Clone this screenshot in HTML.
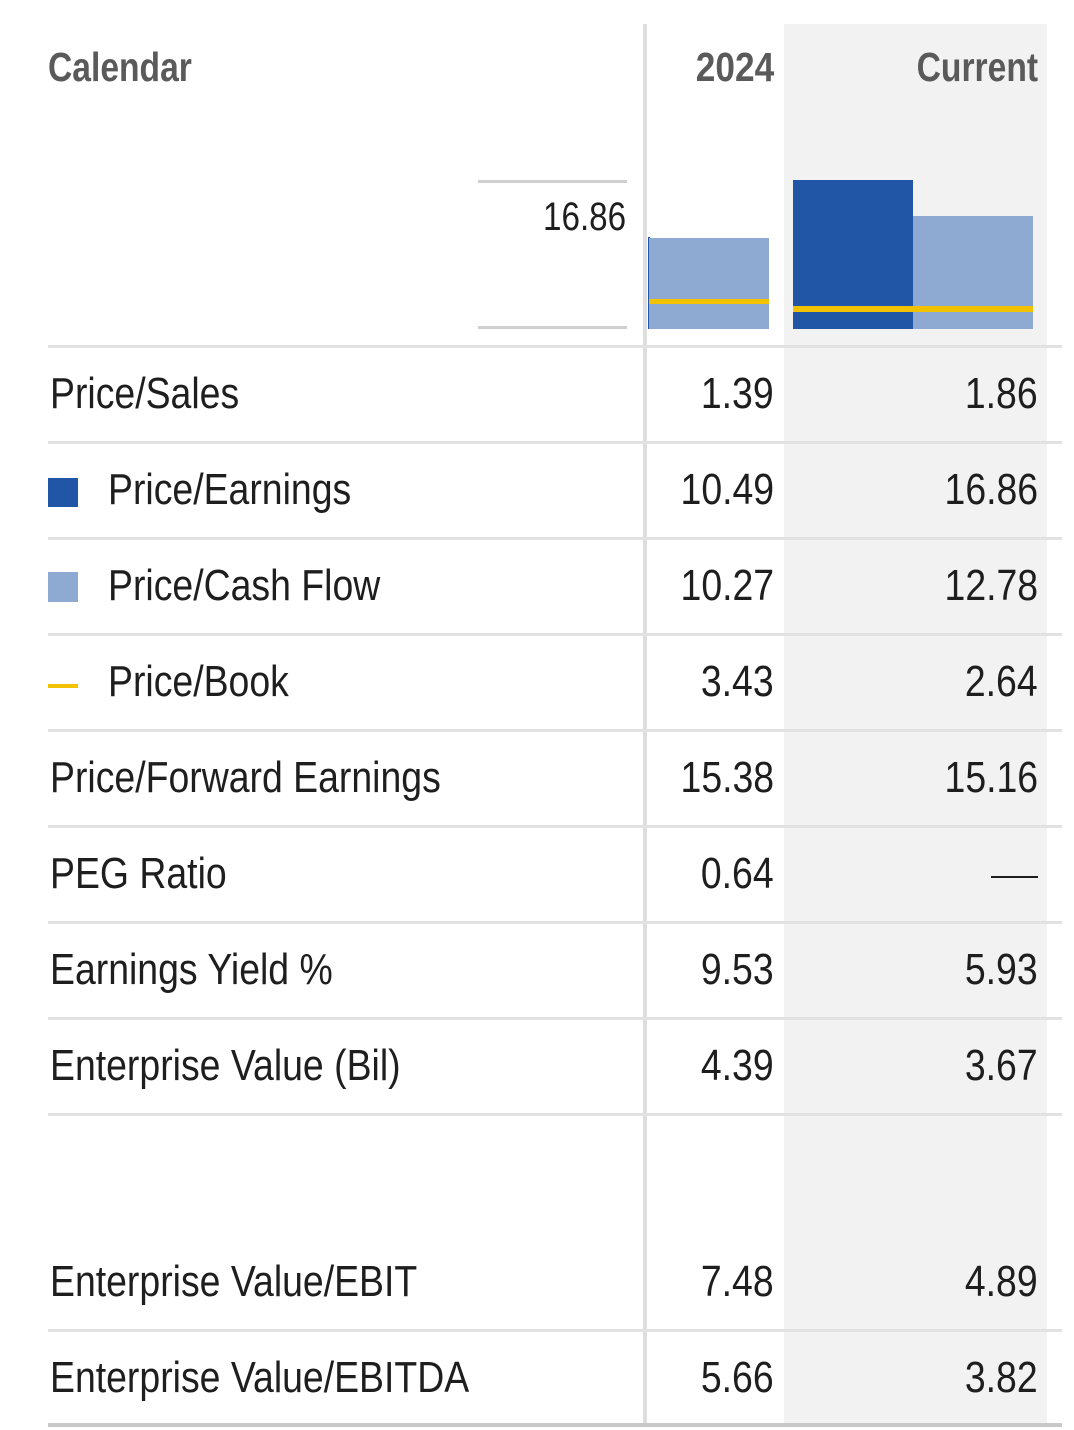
<!DOCTYPE html>
<html><head><meta charset="utf-8"><style>
html,body{margin:0;padding:0;background:#fff;}
body{width:1074px;height:1430px;position:relative;overflow:hidden;font-family:"Liberation Sans",sans-serif;}
.a{position:absolute;}
.t{position:absolute;font-size:44px;line-height:50px;height:50px;color:#1e1e1e;white-space:nowrap;transform:scaleX(0.85);}
.l{transform-origin:left center;}
.r{transform-origin:right center;text-align:right;}
.h{font-weight:bold;color:#5a5a5a;font-size:41px;transform:scaleX(0.82);}
.line{position:absolute;left:48px;width:1014px;height:3px;background:#e2e2e2;}
</style></head><body>
<div class="a" style="left:784px;top:24px;width:263px;height:1401px;background:#f2f2f2"></div>
<div class="a" style="left:643px;top:24px;width:4px;height:1401px;background:#dedede"></div>

<div class="t l h" style="left:48px;top:42px">Calendar</div>
<div class="t r h" style="right:300px;top:42px;transform:scaleX(0.86)">2024</div>
<div class="t r h" style="right:36px;top:42px">Current</div>

<div class="a" style="left:478px;top:180px;width:149px;height:3px;background:#cfcfcf"></div>
<div class="a" style="left:478px;top:326px;width:149px;height:3px;background:#cfcfcf"></div>
<div class="t r" style="right:448px;top:192px;font-size:40px;transform:scaleX(0.83)">16.86</div>

<div class="a" style="left:648px;top:237px;width:2px;height:92px;background:#2155a6"></div>
<div class="a" style="left:649px;top:238px;width:120px;height:91px;background:#8eaad3"></div>
<div class="a" style="left:649px;top:299px;width:120px;height:5px;background:#f2c200"></div>
<div class="a" style="left:793px;top:180px;width:120px;height:149px;background:#2155a6"></div>
<div class="a" style="left:913px;top:216px;width:120px;height:113px;background:#8eaad3"></div>
<div class="a" style="left:793px;top:306px;width:240px;height:6px;background:#f2c200"></div>

<div class="line" style="top:345px"></div>
<div class="line" style="top:441px"></div>
<div class="line" style="top:537px"></div>
<div class="line" style="top:633px"></div>
<div class="line" style="top:729px"></div>
<div class="line" style="top:825px"></div>
<div class="line" style="top:921px"></div>
<div class="line" style="top:1017px"></div>
<div class="line" style="top:1113px"></div>
<div class="line" style="top:1329px"></div>
<div class="line" style="top:1423px;height:4px;background:#c8c8c8"></div>

<div class="a" style="left:48px;top:478px;width:30px;height:29px;background:#2155a6"></div>
<div class="a" style="left:48px;top:572px;width:30px;height:30px;background:#8eaad3"></div>
<div class="a" style="left:48px;top:684px;width:30px;height:4px;background:#f2c200"></div>

<div class="t l" style="left:50px;top:369px">Price/Sales</div>
<div class="t r" style="right:300px;top:369px">1.39</div>
<div class="t r" style="right:36px;top:369px">1.86</div>

<div class="t l" style="left:108px;top:465px">Price/Earnings</div>
<div class="t r" style="right:300px;top:465px">10.49</div>
<div class="t r" style="right:36px;top:465px">16.86</div>

<div class="t l" style="left:108px;top:561px">Price/Cash Flow</div>
<div class="t r" style="right:300px;top:561px">10.27</div>
<div class="t r" style="right:36px;top:561px">12.78</div>

<div class="t l" style="left:108px;top:657px">Price/Book</div>
<div class="t r" style="right:300px;top:657px">3.43</div>
<div class="t r" style="right:36px;top:657px">2.64</div>

<div class="t l" style="left:50px;top:753px">Price/Forward Earnings</div>
<div class="t r" style="right:300px;top:753px">15.38</div>
<div class="t r" style="right:36px;top:753px">15.16</div>

<div class="t l" style="left:50px;top:849px">PEG Ratio</div>
<div class="t r" style="right:300px;top:849px">0.64</div>
<div class="a" style="left:991px;top:876px;width:47px;height:2px;background:#1e1e1e"></div>

<div class="t l" style="left:50px;top:945px">Earnings Yield %</div>
<div class="t r" style="right:300px;top:945px">9.53</div>
<div class="t r" style="right:36px;top:945px">5.93</div>

<div class="t l" style="left:50px;top:1041px">Enterprise Value (Bil)</div>
<div class="t r" style="right:300px;top:1041px">4.39</div>
<div class="t r" style="right:36px;top:1041px">3.67</div>

<div class="t l" style="left:50px;top:1257px">Enterprise Value/EBIT</div>
<div class="t r" style="right:300px;top:1257px">7.48</div>
<div class="t r" style="right:36px;top:1257px">4.89</div>

<div class="t l" style="left:50px;top:1353px">Enterprise Value/EBITDA</div>
<div class="t r" style="right:300px;top:1353px">5.66</div>
<div class="t r" style="right:36px;top:1353px">3.82</div>
</body></html>
